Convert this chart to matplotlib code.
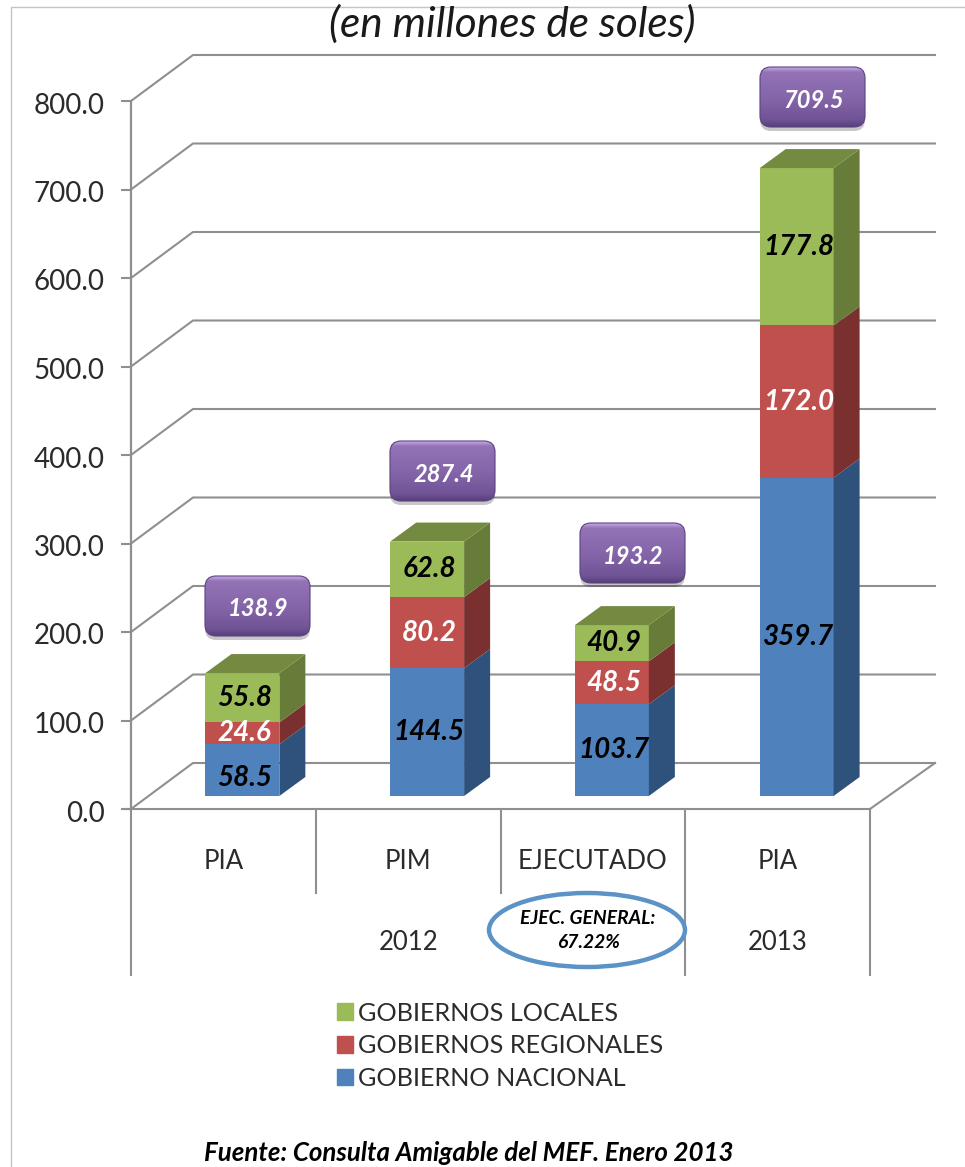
import matplotlib
matplotlib.use("Agg")
import matplotlib.pyplot as plt
import numpy as np
from matplotlib.patches import FancyBboxPatch, Ellipse, Polygon, Patch
from matplotlib.transforms import ScaledTranslation

categories = ["PIA", "PIM", "EJECUTADO", "PIA"]
years = ["2012", "2013"]
series_names = ["GOBIERNO NACIONAL", "GOBIERNOS REGIONALES", "GOBIERNOS LOCALES"]
nacional = [58.5, 144.5, 103.7, 359.7]
regional = [24.6, 80.2, 48.5, 172.0]
locales = [55.8, 62.8, 40.9, 177.8]
totals = [138.9, 287.4, 193.2, 709.5]
yticks = [0, 100, 200, 300, 400, 500, 600, 700, 800]

W, H = 965, 1167
FONT = "Lato"
plt.rcParams["font.family"] = [FONT, "DejaVu Sans"]
GRID = "#8F8F8F"
TXT = "#2B2B2B"
front = ["#4F81BD", "#C0504D", "#9BBB59"]
side = ["#2F527C", "#7A302E", "#667C38"]
top_col = "#738A40"

fig = plt.figure(figsize=(W / 100, H / 100), dpi=100, facecolor="white")

# main axes: pixel frame of the front wall
L, R, T, B = 131, 870, 101, 809
ax = fig.add_axes([L / W, 1 - B / H, (R - L) / W, (B - T) / H])
ax.set_xlim(0, 4)
ax.set_ylim(0, 800)
ax.patch.set_alpha(0)
for s in ["top", "right", "bottom"]:
    ax.spines[s].set_visible(False)
ax.spines["left"].set_color(GRID)
ax.spines["left"].set_linewidth(1.6)

px = 4 / (R - L)
py = 800 / (B - T)
wall_dx, wall_dy = 62 * px, 46 * py
right_end = (935 - L) * px

def gline(xs, ys, **kw):
    ax.plot(xs, ys, color=GRID, lw=1.5, clip_on=False, zorder=1, solid_capstyle="projecting", **kw)

for v in yticks:
    gline([0, wall_dx, right_end], [v, v + wall_dy, v + wall_dy])
# floor
ax.plot([right_end, 4], [wall_dy, 0], color=GRID, lw=1.5, clip_on=False, zorder=1)
gline([-6 * px, 4], [0, 0])
for c, bottom_px in [(0, 975), (1, 893), (2, 893), (3, 975), (4, 975)]:
    gline([c, c], [0, -(bottom_px - B) * py])

ax.set_yticks(yticks)
ax.set_yticklabels([f"{v:.1f}" for v in yticks], fontsize=20, color=TXT)
ax.tick_params(axis="y", length=7, width=1.5, color=GRID, pad=12)
shift = ScaledTranslation(0, -4.5 / 100, fig.dpi_scale_trans)
for t in ax.get_yticklabels():
    t.set_verticalalignment("center")
    t.set_transform(t.get_transform() + shift)
ax.set_xticks([i + 0.5 for i in range(4)])
ax.set_xticklabels(categories, fontsize=18.5, color=TXT)
ax.tick_params(axis="x", length=0, pad=28.5)

# year level of the category axis
ax.text(1.5, -(942 - B) * py, years[0], ha="center", va="center", fontsize=18.5, color=TXT)
ax.text(3.5, -(942 - B) * py, years[1], ha="center", va="center", fontsize=18.5, color=TXT)

# bars with 3-D sides
floor = 13 * py
bw = 0.40
ddx, ddy = 26 * px, 19 * py
centers = np.arange(4) + 0.603
bottoms = np.full(4, floor)
stack = [nacional, regional, locales]
for k, vals in enumerate(stack):
    vals = np.array(vals)
    ax.bar(centers, vals, bw, bottom=bottoms, color=front[k], zorder=3, linewidth=0, clip_on=False)
    for i in range(4):
        x1 = centers[i] + bw / 2
        b, t = bottoms[i], bottoms[i] + vals[i]
        ax.add_patch(Polygon([(x1, b), (x1 + ddx, b + ddy), (x1 + ddx, t + ddy), (x1, t)],
                             closed=True, fc=side[k], ec="none", zorder=3, clip_on=False))
        if k == 2:
            x0 = centers[i] - bw / 2
            ax.add_patch(Polygon([(x0, t), (x1, t), (x1 + ddx, t + ddy), (x0 + ddx, t + ddy)],
                                 closed=True, fc=top_col, ec="none", zorder=3, clip_on=False))
        col = "white" if k == 1 else "black"
        nudge = 8 * py * -1 if (k == 0 and i == 0) else 0
        ax.text(centers[i] + 0.01, (b + t) / 2 + nudge, f"{vals[i]:.1f}", ha="center", va="center",
                fontsize=20, fontweight="bold", fontstyle="italic", color=col, zorder=5)
    bottoms = bottoms + vals

handles = [Patch(color=front[2]), Patch(color=front[1]), Patch(color=front[0])]
labels = [series_names[2], series_names[1], series_names[0]]
fig.legend(handles, labels, loc="upper left", bbox_to_anchor=(319 / W, 1 - 984 / H),
           frameon=False, fontsize=18.2, labelcolor=TXT, handlelength=0.65, handleheight=0.65,
           handletextpad=0.2, labelspacing=0.38, borderpad=0.2)

# overlay in pixel coordinates for callouts and page furniture
ov = fig.add_axes([0, 0, 1, 1])
ov.set_xlim(0, W)
ov.set_ylim(H, 0)
ov.axis("off")
ov.patch.set_alpha(0)

ov.plot([11, 11, W], [H, 7, 7], color="#C4C4C4", lw=1)
ov.text(512, 24, "(en millones de soles)", ha="center", va="center", fontsize=30.5,
        fontstyle="italic", color="#1A1A1A", clip_on=True)
ov.text(469, 1153, "Fuente: Consulta Amigable del MEF. Enero 2013", ha="center", va="center",
        fontsize=18.6, fontstyle="italic", fontweight="bold", color="black")

grad_colors = np.array([[0xC4, 0xA8, 0xE4], [0x93, 0x72, 0xB6], [0x86, 0x66, 0xAA],
                        [0x70, 0x54, 0x96], [0x58, 0x40, 0x7C]]) / 255
grad = np.stack([np.interp(np.linspace(0, 1, 60), [0, .08, .5, .88, 1], grad_colors[:, c]) for c in range(3)], axis=1)[:, None, :]
boxes = [(205, 576), (390, 441), (580, 523), (760, 67)]
bw_px, bh_px = 105, 60
for (x, y), tot in zip(boxes, totals):
    ov.add_patch(FancyBboxPatch((x, y + 4), bw_px, bh_px, boxstyle="round,pad=0,rounding_size=11",
                                fc="#000000", ec="none", alpha=0.22, zorder=6))
    p = FancyBboxPatch((x, y), bw_px, bh_px, boxstyle="round,pad=0,rounding_size=11",
                       fc="none", ec="#5C4280", lw=0.8, zorder=8)
    ov.add_patch(p)
    im = ov.imshow(grad, extent=(x, x + bw_px, y + bh_px, y), aspect="auto", zorder=7)
    im.set_clip_path(p)
    ov.text(x + bw_px / 2 + 1, y + bh_px / 2 + 3, f"{tot:.1f}", ha="center", va="center", color="white",
            fontsize=17, fontweight="bold", fontstyle="italic", zorder=9)
ov.set_xlim(0, W)
ov.set_ylim(H, 0)

ov.add_patch(Ellipse((587, 930), 196, 74, fc="white", ec="#5B93C7", lw=3.2, zorder=6))
ov.text(588, 919, "EJEC. GENERAL:", ha="center", va="center", fontsize=13.9, fontweight="bold",
        fontstyle="italic", color="black", zorder=7)
ov.text(588, 942, "67.22%", ha="center", va="center", fontsize=13.9, fontweight="bold",
        fontstyle="italic", color="black", zorder=7)

fig.savefig("out.png", dpi=100)
